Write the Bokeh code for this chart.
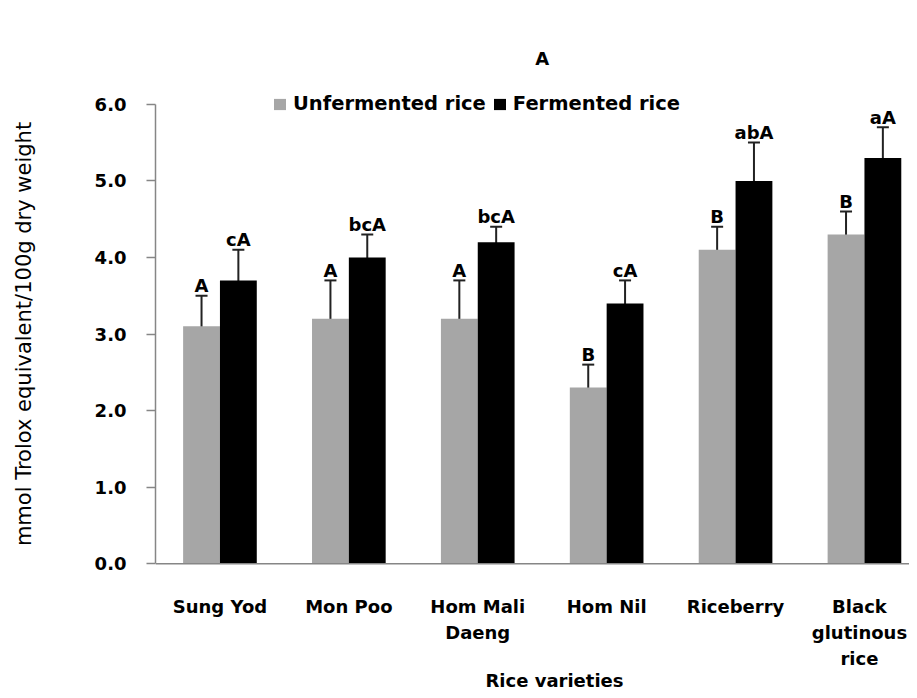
from bokeh.plotting import figure
from bokeh.models import (Range1d, ColumnDataSource, Whisker, TeeHead, Label, Span, Title,
                          Legend, LegendItem, FixedTicker, NumeralTickFormatter)
from bokeh.embed import file_html
from bokeh.resources import INLINE
from bokeh.core.properties import value

# ---- data ----
categories = ["Sung Yod", "Mon Poo", "Hom Mali\nDaeng", "Hom Nil", "Riceberry",
              "Black\nglutinous\nrice"]
unfermented = [3.1, 3.2, 3.2, 2.3, 4.1, 4.3]
unfermented_err = [0.4, 0.5, 0.5, 0.3, 0.3, 0.3]
fermented = [3.7, 4.0, 4.2, 3.4, 5.0, 5.3]
fermented_err = [0.4, 0.3, 0.2, 0.3, 0.5, 0.4]
unfermented_letters = ["A", "A", "A", "B", "B", "B"]
fermented_letters = ["cA", "bcA", "bcA", "cA", "abA", "aA"]
y_ticks = [0, 1, 2, 3, 4, 5, 6]
series_names = ["Unfermented rice", "Fermented rice"]
title_text = "A"
x_title = "Rice varieties"
y_title = "mmol Trolox equivalent/100g dry weight"

# ---- styling / layout ----
FONT = "DejaVu Sans"
GRAY = "#A6A6A6"
AXIS = "#868686"
ERR = "#222222"

W, H = 909, 690
LEFT = 155            # frame left edge (px)
BOTTOM_BORDER = 22    # below panel (x axis title)
FRAME_BOTTOM = H - BOTTOM_BORDER
Y0_PX, YMAX_PX = 564, 104   # pixel rows of y=0 and y=6
CAT_PX = 128.9              # pixel width of one category

PX = (Y0_PX - YMAX_PX) / (y_ticks[-1] - y_ticks[0])
y_start = -(FRAME_BOTTOM - Y0_PX) / PX
y_end = y_ticks[-1] + YMAX_PX / PX
x_end = (W - LEFT) / CAT_PX

def py(row):
    """data y for a pixel row (from the top)"""
    return (Y0_PX - row) / PX

n = len(categories)
centers = [i + 0.5 for i in range(n)]
BW = 1 / 3.5

p = figure(width=W, height=H, x_range=Range1d(0, x_end), y_range=Range1d(y_start, y_end),
           output_backend="svg", toolbar_location=None, x_axis_location=None,
           min_border_left=LEFT, min_border_right=0,
           min_border_top=0, min_border_bottom=BOTTOM_BORDER)
p.outline_line_color = None
p.grid.visible = False

src_u = ColumnDataSource(dict(
    x=[c - BW / 2 for c in centers], top=unfermented,
    upper=[v + e for v, e in zip(unfermented, unfermented_err)],
    lower=[v - e for v, e in zip(unfermented, unfermented_err)],
    lab=unfermented_letters))
src_f = ColumnDataSource(dict(
    x=[c + BW / 2 for c in centers], top=fermented,
    upper=[v + e for v, e in zip(fermented, fermented_err)],
    lower=[v - e for v, e in zip(fermented, fermented_err)],
    lab=fermented_letters))

r_u = p.vbar(x="x", top="top", bottom=0, width=BW, source=src_u, fill_color=GRAY, line_color=None)
r_f = p.vbar(x="x", top="top", bottom=0, width=BW, source=src_f, fill_color="black", line_color=None)

p.add_layout(Span(location=0, dimension="width", line_color=AXIS, line_width=1.5))

for src in (src_u, src_f):
    p.add_layout(Whisker(source=src, base="x", upper="upper", lower="lower",
                         line_color=ERR, line_width=2,
                         upper_head=TeeHead(size=12, line_color=ERR, line_width=2),
                         lower_head=TeeHead(size=12, line_color=ERR, line_width=2)))
    p.text(x="x", y="upper", text="lab", source=src, text_align="center",
           text_baseline="alphabetic", y_offset=-10, text_color="black",
           text_font=value(FONT), text_font_style="bold", text_font_size="18px")

# y axis
p.yaxis.ticker = FixedTicker(ticks=y_ticks)
p.yaxis.bounds = (y_ticks[0], y_ticks[-1])
p.yaxis.formatter = NumeralTickFormatter(format="0.0")
p.yaxis.axis_line_color = AXIS
p.yaxis.axis_line_width = 1.5
p.yaxis.major_tick_line_color = AXIS
p.yaxis.major_tick_line_width = 1.5
p.yaxis.major_tick_out = 9
p.yaxis.major_tick_in = 0
p.yaxis.minor_tick_line_color = None
p.yaxis.major_label_text_font = FONT
p.yaxis.major_label_text_font_style = "bold"
p.yaxis.major_label_text_font_size = "18px"
p.yaxis.major_label_text_color = "black"
p.yaxis.major_label_standoff = 20
p.yaxis.axis_label = y_title
p.yaxis.axis_label_text_font = FONT
p.yaxis.axis_label_text_font_style = "normal"
p.yaxis.axis_label_text_font_size = "21px"
p.yaxis.axis_label_text_color = "black"
p.yaxis.axis_label_standoff = 56

# category labels (below the bars)
first_base = 607
line_gap = 26
for i, (c, name) in enumerate(zip(centers, categories)):
    shift = -5 if i == n - 1 else 0   # keep the last label inside the page
    for j, line in enumerate(name.split("\n")):
        p.add_layout(Label(x=c, y=py(first_base + j * line_gap), text=line,
                           x_offset=shift,
                           text_align="center", text_baseline="alphabetic",
                           text_font=FONT, text_font_style="bold",
                           text_font_size="18px", text_color="black"))

# chart title "A"
p.add_layout(Label(x=3.0, y=py(58), text=title_text,
                   text_align="center", text_baseline="alphabetic", text_font=FONT,
                   text_font_style="bold", text_font_size="18px", text_color="black"))

# x axis title in the panel below
p.add_layout(Title(text=x_title, align="left", offset=330, standoff=0,
                   vertical_align="bottom", text_font=FONT, text_font_style="bold",
                   text_font_size="18px", text_color="black"), "below")

legend = Legend(items=[LegendItem(label=series_names[0], renderers=[r_u]),
                       LegendItem(label=series_names[1], renderers=[r_f])],
                orientation="horizontal", location=(117, FRAME_BOTTOM - 116),
                glyph_width=15, glyph_height=14, label_standoff=6, spacing=6,
                padding=0, margin=0, border_line_alpha=0, background_fill_alpha=0,
                label_text_font=FONT, label_text_font_style="bold",
                label_text_font_size="19.5px", label_text_color="black")
p.add_layout(legend)

open("out.html", "w").write(file_html(p, INLINE))
